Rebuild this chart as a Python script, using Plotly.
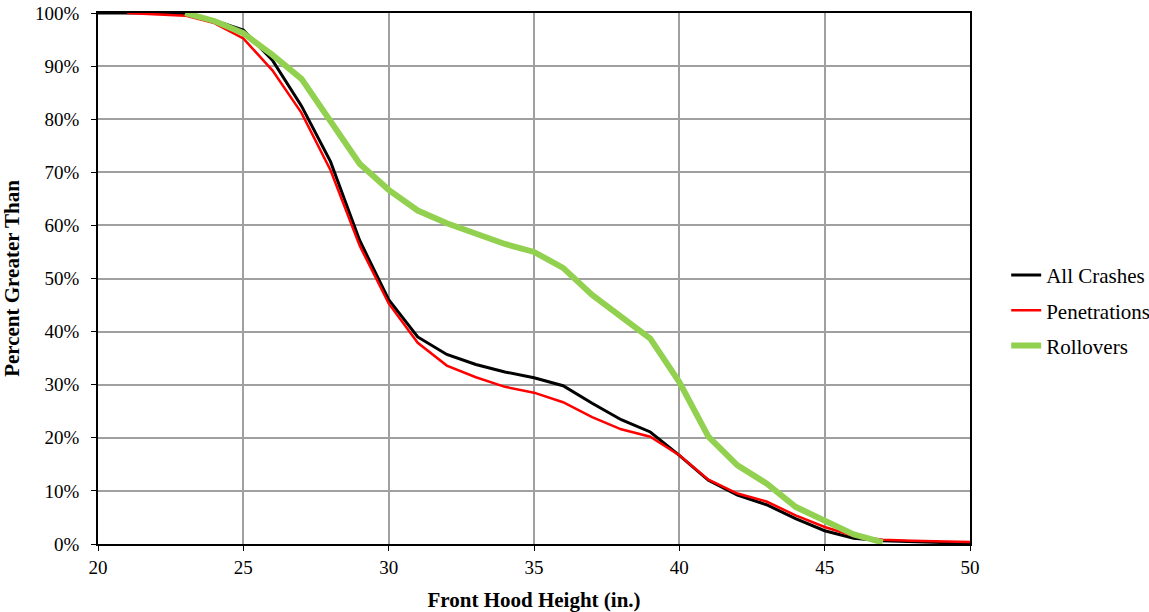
import plotly.graph_objects as go

x_all = list(range(20, 51))
all_crashes = [100, 100, 100, 99.8, 98.6, 96.8, 91.1, 82.5, 72.0, 57.2, 46.0, 39.0, 35.7, 33.8, 32.4, 31.3,
               29.8, 26.5, 23.4, 21.1, 16.7, 12.0, 9.2, 7.4, 4.8, 2.5, 1.1, 0.6, 0.4, 0.3, 0.2]
x_pen = list(range(21, 51))
penetrations = [100, 99.8, 99.5, 98.1, 95.2, 89.2, 81.2, 70.4, 56.2, 45.3, 37.9, 33.6, 31.4, 29.6, 28.5,
                26.7, 23.9, 21.6, 20.2, 16.7, 12.1, 9.5, 8.0, 5.4, 3.2, 1.5, 0.8, 0.6, 0.5, 0.4]
x_roll = list(range(23, 48))
rollovers = [100, 98.5, 96.2, 92.1, 87.6, 79.8, 71.6, 66.7, 62.8, 60.4, 58.3, 56.5, 55.0, 52.0, 46.9,
             42.8, 38.7, 30.5, 20.2, 14.8, 11.4, 7.0, 4.4, 1.8, 0.3]

font_family = "Liberation Serif, Times New Roman, serif"

fig = go.Figure()
fig.add_trace(go.Scatter(x=x_all, y=all_crashes, mode="lines", name="All Crashes", legendgroup="a",
                         line=dict(color="#000000", width=3)))
fig.add_trace(go.Scatter(x=x_pen, y=penetrations, mode="lines", name="Penetrations", legendgroup="b",
                         line=dict(color="#ff0000", width=2.5)))
fig.add_trace(go.Scatter(x=x_roll, y=rollovers, mode="lines", name="Rollovers", legendgroup="c",
                         line=dict(color="#92d050", width=6)))

fig.update_layout(
    width=1149, height=612,
    margin=dict(l=98, r=179, t=13, b=68, autoexpand=False),
    paper_bgcolor="white", plot_bgcolor="white",
    font=dict(family=font_family, size=19, color="black"),
    legend=dict(x=1.0415, y=0.44, xanchor="left", yanchor="middle",
                font=dict(family=font_family, size=21, color="black"),
                traceorder="grouped", tracegroupgap=5, itemwidth=30, bgcolor="rgba(0,0,0,0)"),
    showlegend=True,
)
fig.update_xaxes(
    range=[20, 50], dtick=5, tick0=20, automargin=False,
    showgrid=True, gridcolor="#a0a0a0", gridwidth=1.5,
    showline=True, linecolor="black", linewidth=1.5, mirror=True,
    ticks="outside", ticklen=5, tickcolor="black",
    tickfont=dict(family=font_family, size=19),
    title=dict(text="<b>Front Hood Height (in.)</b>", font=dict(family=font_family, size=21), standoff=16),
    zeroline=False,
)
fig.update_yaxes(
    range=[0, 100], dtick=10, ticksuffix="%", automargin=False,
    showgrid=True, gridcolor="#a0a0a0", gridwidth=1.5,
    showline=True, linecolor="black", linewidth=1.5, mirror=True,
    ticks="outside", ticklen=5, tickcolor="black", ticklabelstandoff=8,
    tickfont=dict(family=font_family, size=19),
    title=dict(text="<b>Percent Greater Than</b>", font=dict(family=font_family, size=21), standoff=18),
    zeroline=False,
)

fig.write_html("out.html", config={"displayModeBar": False},
               post_script="document.body.style.margin='0';")
